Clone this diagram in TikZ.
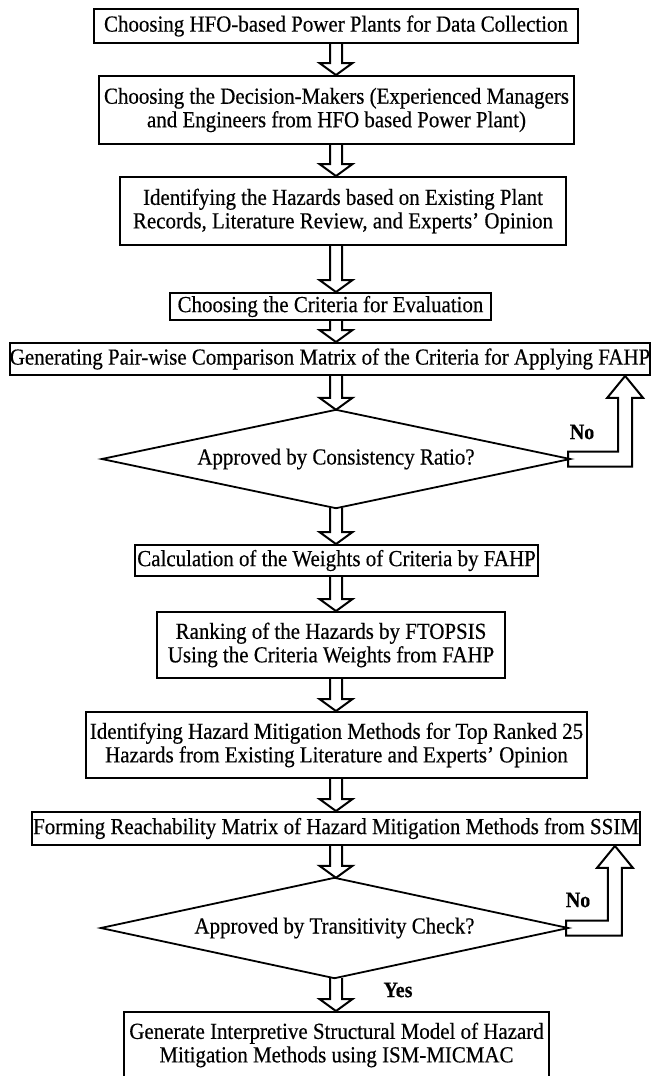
\documentclass[tikz,border=0pt]{standalone}
\usepackage{fontspec}
\setmainfont[FakeStretch=0.91,FakeBold=0.4]{Liberation Serif}
\usetikzlibrary{calc}
\newcommand\flowarrow[2]{%
  \draw[barrow] let \p3=(axis), \p1=(#1.south), \p2=(#2.north) in
   (\x3-6pt,\y1) -- (\x3-6pt,\y2+12pt) -- (\x3-16.5pt,\y2+12pt) -- (\x3,\y2)
   -- (\x3+16.5pt,\y2+12pt) -- (\x3+6pt,\y2+12pt) -- (\x3+6pt,\y1);}
\newcommand\noarrow[2]{%
  \draw[barrow] let \p1=(#1.east), \p2=(#2.south east) in
   (\x1-2pt,\y1-7.5pt) -- (\x2-19pt,\y1-7.5pt) -- (\x2-19pt,\y2-22pt)
   -- (\x2-8pt,\y2-22pt) -- (\x2-26pt,\y2) -- (\x2-44pt,\y2-22pt)
   -- (\x2-33pt,\y2-22pt) -- (\x2-33pt,\y1+7.5pt) -- (\x1-2pt,\y1+7.5pt) -- cycle;}
\newcommand\diamondof[1]{%
  \draw[line width=1.8pt, line join=miter] (#1.north) -- (#1.east) -- (#1.south) -- (#1.west) -- cycle;}
\begin{document}
\begin{tikzpicture}[x=1pt,y=-1pt,
  box/.style={draw, line width=1.9pt, inner sep=0pt, align=center,
    font=\fontsize{23}{23.5}\selectfont},
  dia/.style={inner sep=0pt, font=\fontsize{23}{23.5}\selectfont},
  lab/.style={font=\bfseries\fontsize{22}{23}\selectfont, inner sep=0pt},
  barrow/.style={draw, line width=2pt, line join=miter}]
\useasboundingbox (0,0) rectangle (664,1076);
\clip (0,0) rectangle (664,1076);
\fill[white] (0,0) rectangle (664,1076);
\coordinate (axis) at (336,0);
\node[box, minimum width=484pt, minimum height=34pt] (b1) at (336,26)
  {Choosing HFO-based Power Plants for Data Collection};
\node[box, minimum width=475pt, minimum height=68pt] (b2) at (336.5,110)
  {Choosing the Decision-Makers (Experienced Managers\\and Engineers from HFO based Power Plant)};
\node[box, minimum width=446pt, minimum height=68pt] (b3) at (343,211)
  {Identifying the Hazards based on Existing Plant\\Records, Literature Review, and Experts' Opinion};
\node[box, minimum width=321pt, minimum height=27pt] (b4) at (330.5,306.5)
  {Choosing the Criteria for Evaluation};
\node[box, minimum width=634pt, minimum height=32pt] (b5) at (330,359)
  {Generating Pair-wise Comparison Matrix of the Criteria for Applying FAHP};
\node[dia, minimum width=468pt, minimum height=98pt] (d1) at (336,459)
  {Approved by Consistency Ratio?};
\node[box, minimum width=403pt, minimum height=31pt] (b6) at (336.5,560.5)
  {Calculation of the Weights of Criteria by FAHP};
\node[box, minimum width=348pt, minimum height=66pt] (b7) at (331,645)
  {Ranking of the Hazards by FTOPSIS\\Using the Criteria Weights from FAHP};
\node[box, minimum width=501pt, minimum height=66pt] (b8) at (336.5,745)
  {Identifying Hazard Mitigation Methods for Top Ranked 25\\Hazards from Existing Literature and Experts' Opinion};
\node[box, minimum width=608pt, minimum height=33pt] (b9) at (336,828.5)
  {Forming Reachability Matrix of Hazard Mitigation Methods from SSIM};
\node[dia, minimum width=467pt, minimum height=100pt] (d2) at (334.5,928)
  {Approved by Transitivity Check?};
\node[box, minimum width=425pt, minimum height=66pt] (b10) at (336.5,1045)
  {Generate Interpretive Structural Model of Hazard\\Mitigation Methods using ISM-MICMAC};
\diamondof{d1}
\diamondof{d2}
\node[lab] (no1) at (582,432) {No};
\node[lab] (no2) at (578,900) {No};
\node[lab] (yes) at (398,990) {Yes};
\flowarrow{b1}{b2}
\flowarrow{b2}{b3}
\flowarrow{b3}{b4}
\flowarrow{b4}{b5}
\flowarrow{b5}{d1}
\flowarrow{d1}{b6}
\flowarrow{b6}{b7}
\flowarrow{b7}{b8}
\flowarrow{b8}{b9}
\flowarrow{b9}{d2}
\flowarrow{d2}{b10}
\noarrow{d1}{b5}
\noarrow{d2}{b9}
\end{tikzpicture}
\end{document}
